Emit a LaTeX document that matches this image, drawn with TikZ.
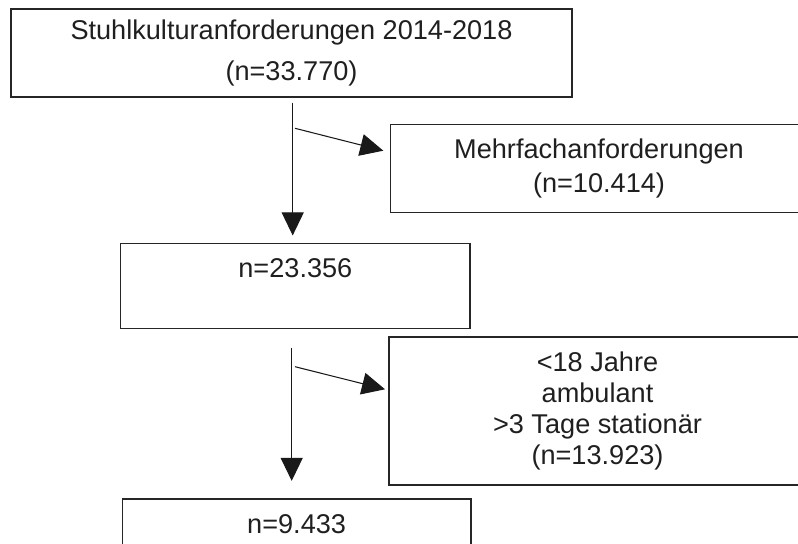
\documentclass[tikz,border=0pt]{standalone}
\usepackage{fontspec}
\setmainfont{Liberation Sans}
\usetikzlibrary{arrows.meta}

\tikzset{
  box/.style={draw=black!85,line width=0.9pt,inner sep=0pt,align=center,text=black!88},
  flow/.style={draw=black!90,line width=0.75pt,-{Triangle[length=5.75mm,width=5.5mm]}}
}

\begin{document}
\begin{tikzpicture}
\useasboundingbox (0,0) rectangle (19.95,-13.6);
\clip (0,0) rectangle (19.95,-13.6);
\node[box,minimum width=14.025cm,minimum height=2.2cm,font={\fontsize{19.3}{28.8}\selectfont}] (all) at (7.2875,-1.325) {Stuhlkulturanforderungen 2014-2018\\(n=33.770)};
\node[box,minimum width=10.415cm,minimum height=2.2cm,font={\fontsize{19.3}{24.8}\selectfont}] (multi) at (14.975,-4.2125) {Mehrfachanforderungen\\(n=10.414)};
\node[box,minimum width=8.7325cm,minimum height=2.125cm,font={\fontsize{19.3}{24.8}\selectfont}] (rest1) at (7.384,-7.145) {n=23.356\\\mbox{}};
\node[box,minimum width=10.425cm,minimum height=3.7cm,font={\fontsize{19.3}{22}\selectfont}] (excl) at (14.9375,-10.275) {<18 Jahre\\ambulant\\>3 Tage stationär\\(n=13.923)};
\node[box,minimum width=8.7175cm,minimum height=2.125cm,font={\fontsize{19.3}{24.8}\selectfont}] (rest2) at (7.416,-13.54) {n=9.433\\\mbox{}};
\coordinate (split1) at (7.3175,-2.5675);
\coordinate (split2) at (7.2925,-8.7075);
\coordinate (cut1) at (7.375,-3.2075);
\coordinate (cut1tip) at (9.5825,-3.7675);
\coordinate (cut2) at (7.375,-9.1675);
\coordinate (cut2tip) at (9.625,-9.7325);
\draw[flow,shorten >=0.18cm] (split1) -- (split1 |- rest1.north);
\draw[flow] (cut1) -- (cut1tip);
\draw[flow,shorten >=0.44cm] (split2) -- (split2 |- rest2.north);
\draw[flow] (cut2) -- (cut2tip);
\end{tikzpicture}
\end{document}
